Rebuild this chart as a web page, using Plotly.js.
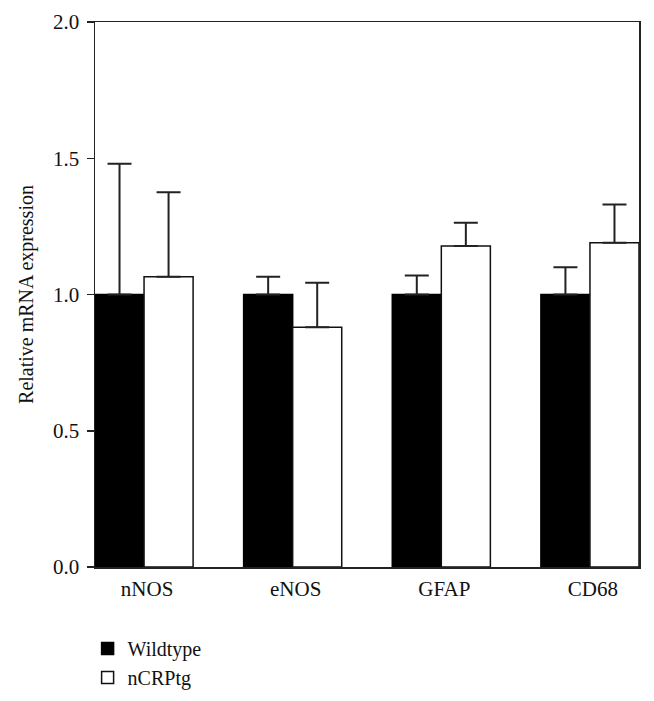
<!DOCTYPE html>
<html>
<head>
<meta charset="utf-8">
<script src="https://cdn.plot.ly/plotly-3.0.1.min.js"></script>
<style>html,body{margin:0;padding:0;background:#fff;}#chart{width:654px;height:701px;}</style>
</head>
<body>
<div id="chart"></div>
<script>
const categories = ["nNOS", "eNOS", "GFAP", "CD68"];
const wildtypeValues = [1.00, 1.00, 1.00, 1.00];
const wildtypeErrors = [0.48, 0.065, 0.07, 0.10];
const ncrptgValues = [1.065, 0.88, 1.178, 1.19];
const ncrptgErrors = [0.31, 0.163, 0.085, 0.14];
const yTickValues = [0, 0.5, 1.0, 1.5, 2.0];
const yTickLabels = ["0.0", "0.5", "1.0", "1.5", "2.0"];
const seriesNames = ["Wildtype", "nCRPtg"];
const yTitle = "Relative mRNA expression";

const serif = "Liberation Serif, Times New Roman, serif";
const zeros = categories.map(() => 0);

const traces = [
  {
    type: "bar", name: seriesNames[0], x: categories, y: wildtypeValues,
    marker: {color: "#000000", line: {color: "#000000", width: 1.5}},
    error_y: {type: "data", symmetric: false, array: wildtypeErrors, arrayminus: zeros,
              color: "#222222", thickness: 2, width: 12}
  },
  {
    type: "bar", name: seriesNames[1], x: categories, y: ncrptgValues,
    marker: {color: "#ffffff", line: {color: "#111111", width: 1.5}},
    error_y: {type: "data", symmetric: false, array: ncrptgErrors, arrayminus: zeros,
              color: "#222222", thickness: 2, width: 12}
  }
];

const layout = {
  width: 654, height: 701,
  margin: {l: 95, r: 15, t: 22, b: 134, pad: 0, autoexpand: false},
  paper_bgcolor: "#ffffff", plot_bgcolor: "#ffffff",
  font: {family: serif, size: 21, color: "#111111"},
  barmode: "group", bargap: 0.34, bargroupgap: 0,
  showlegend: true,
  legend: {x: -0.0136, xanchor: "left", y: -0.1138, yanchor: "top",
           font: {family: serif, size: 20, color: "#111111"},
           bgcolor: "rgba(0,0,0,0)", borderwidth: 0, traceorder: "normal"},
  xaxis: {
    type: "category", range: [-0.33, 3.33],
    showline: true, linecolor: "#222222", linewidth: 1.5, mirror: true,
    ticks: "", showgrid: false, zeroline: false,
    tickfont: {family: serif, size: 21, color: "#111111"},
    ticklabelshift: 3, ticklabelstandoff: 2
  },
  yaxis: {
    range: [0, 2.0], tickvals: yTickValues, ticktext: yTickLabels,
    showline: true, linecolor: "#222222", linewidth: 1.5, mirror: true,
    ticks: "outside", ticklen: 7, tickwidth: 1.5, tickcolor: "#222222",
    showgrid: false, zeroline: false,
    tickfont: {family: serif, size: 21, color: "#111111"},
    ticklabelstandoff: 3,
    title: {text: yTitle, font: {family: serif, size: 20, color: "#111111"}, standoff: 14}
  }
};

Plotly.newPlot("chart", traces, layout, {displayModeBar: false, staticPlot: true});
</script>
</body>
</html>
